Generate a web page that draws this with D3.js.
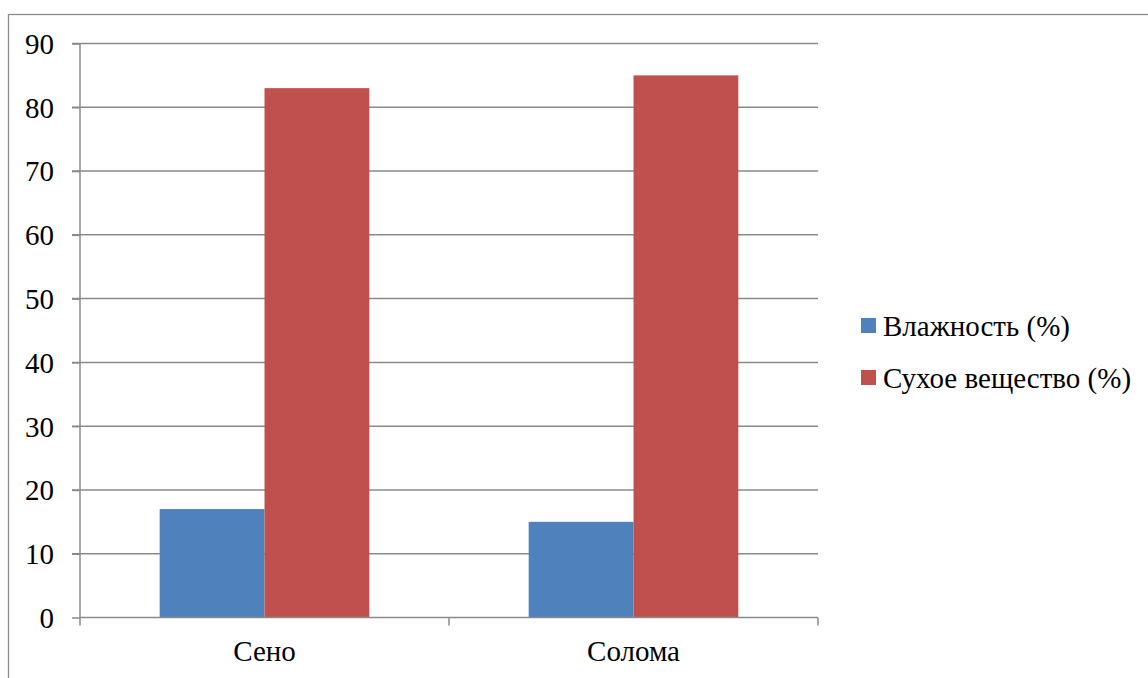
<!DOCTYPE html>
<html><head><meta charset="utf-8">
<script src="https://cdn.jsdelivr.net/npm/d3@7"></script>
</head><body style="margin:0">
<script>
const categories = ["Сено", "Солома"];
const seriesNames = ["Влажность (%)", "Сухое вещество (%)"];
const moisture = [17, 15];
const dryMatter = [83, 85];
const yTicks = [0, 10, 20, 30, 40, 50, 60, 70, 80, 90];
const colors = ["#4f81bd", "#c0504d"];

const W = 1148, H = 678;
const svg = d3.select("body").append("svg").attr("width", W).attr("height", H)
  .attr("font-family", "Liberation Serif, serif").style("font-family", "Liberation Serif, serif");
const FONT = "Liberation Serif, serif";
const FS = "29px";
function styleText(sel) {
  sel.attr("font-family", FONT).style("font-family", FONT).style("font-size", FS).attr("fill", "#000");
}

// outer frame
svg.append("rect").attr("x", 8.5).attr("y", 14.5).attr("width", 1200).attr("height", 700)
  .attr("fill", "none").attr("stroke", "#8c8c8c").attr("stroke-width", 1.3);

const x0 = 80, x1 = 818, yTop = 43.5, yBot = 617.5;
const x = d3.scaleBand().domain(categories).range([x0, x1]).paddingInner(0).paddingOuter(0);
const y = d3.scaleLinear().domain([0, 90]).range([yBot, yTop]);
const series = [moisture, dryMatter];
const sub = d3.scaleBand().domain(seriesNames).range([0, x.bandwidth()]).paddingInner(0).paddingOuter(0.76);

const gridColor = "#8a8a8a";
svg.append("g").selectAll("line").data(yTicks.filter(d => d > 0)).join("line")
  .attr("x1", x0 - 8).attr("x2", x1).attr("y1", d => y(d)).attr("y2", d => y(d))
  .attr("stroke", gridColor).attr("stroke-width", 1.5);

const g = svg.append("g");
categories.forEach((c, ci) => {
  seriesNames.forEach((s, si) => {
    g.append("rect")
      .attr("x", x(c) + sub(s))
      .attr("y", y(series[si][ci]))
      .attr("width", sub.bandwidth())
      .attr("height", y(0) - y(series[si][ci]))
      .attr("fill", colors[si]);
  });
});

const yAxis = d3.axisLeft(y).tickValues(yTicks).tickSize(8).tickPadding(18);
const ya = svg.append("g").attr("transform", `translate(${x0},0)`).call(yAxis);
ya.attr("font-family", FONT).attr("font-size", null);
ya.select(".domain").attr("stroke", gridColor).attr("stroke-width", 1.5).attr("d", `M-0,${yTop}V${yBot}`);
ya.selectAll(".tick line").attr("stroke", gridColor).attr("stroke-width", 1.5);
ya.selectAll(".tick text").call(styleText).attr("dy", "0.34em");

const xAxis = d3.axisBottom(x).tickSize(0).tickPadding(23);
const xa = svg.append("g").attr("transform", `translate(0,${yBot})`).call(xAxis);
xa.attr("font-family", FONT).attr("font-size", null);
xa.select(".domain").attr("stroke", gridColor).attr("stroke-width", 1.5).attr("d", `M${x0},0H${x1}`);
xa.selectAll(".tick text").call(styleText);
xa.append("g").selectAll("line").data([...categories.map(c => x(c)), x1]).join("line")
  .attr("x1", d => d).attr("x2", d => d).attr("y1", 0).attr("y2", 8)
  .attr("stroke", gridColor).attr("stroke-width", 1.5);

const lg = svg.append("g").attr("transform", "translate(861,318)");
seriesNames.forEach((s, i) => {
  const row = lg.append("g").attr("transform", `translate(0,${i * 52})`);
  row.append("rect").attr("width", 15).attr("height", 15).attr("fill", colors[i]);
  row.append("text").attr("x", 22).attr("y", 7.5).attr("dy", "0.35em").call(styleText).text(s);
});
</script>
</body></html>
